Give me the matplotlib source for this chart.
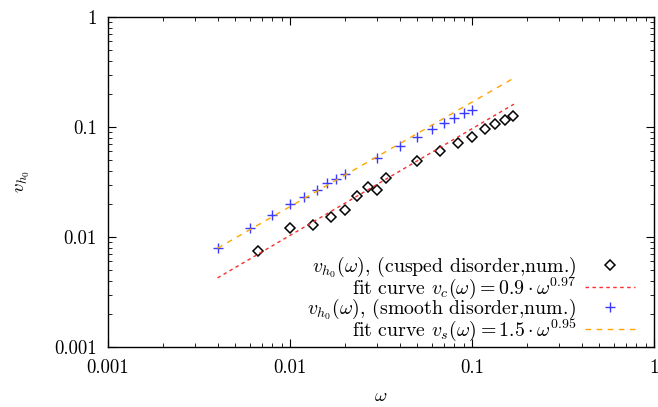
import numpy as np
import matplotlib
matplotlib.use('Agg')
import matplotlib.pyplot as plt
from matplotlib.ticker import FuncFormatter, LogLocator

plt.rcParams['font.family'] = 'serif'
plt.rcParams['font.serif'] = ['cmr10']
plt.rcParams['mathtext.fontset'] = 'cm'
plt.rcParams['axes.formatter.use_mathtext'] = True

# cusped disorder, numerical
w_cusp = [0.00667, 0.01, 0.0134, 0.0167, 0.02, 0.0233, 0.0268, 0.0302, 0.0336,
          0.05, 0.067, 0.0838, 0.1, 0.1175, 0.134, 0.151, 0.168]
v_cusp = [0.00746, 0.0122, 0.0128, 0.0152, 0.0175, 0.0237, 0.0285, 0.0269, 0.0342,
          0.0488, 0.0605, 0.072, 0.0816, 0.0953, 0.106, 0.1158, 0.1267]

# smooth disorder, numerical
w_smooth = [0.004, 0.006, 0.008, 0.01, 0.012, 0.014, 0.016, 0.018, 0.02,
            0.03, 0.04, 0.05, 0.06, 0.07, 0.08, 0.09, 0.1]
v_smooth = [0.0080, 0.0122, 0.0158, 0.0198, 0.0232, 0.0267, 0.0308, 0.0337, 0.0372,
            0.0526, 0.0668, 0.0811, 0.0953, 0.108, 0.120, 0.134, 0.1436]

# fit parameters
a_c, b_c = 0.9, 0.97
a_s, b_s = 1.5, 0.95
w_fit = np.logspace(np.log10(0.004), np.log10(0.17), 200)

fig = plt.figure(figsize=(6.58, 4.07), dpi=100)
ax = fig.add_axes([0.1641, 0.1474, 0.8298, 0.8108])

ax.plot(w_cusp, v_cusp, linestyle='none', marker='D', markersize=5.0,
        markerfacecolor='none', markeredgecolor='black', markeredgewidth=1.1,
        label=r'$v_{h_0}(\omega)$, (cusped disorder,num.)')
ax.plot(w_fit, a_c * w_fit**b_c, color='#ff2a2a', lw=1.0, dashes=(2.5, 2.5),
        label=r'fit curve $v_c(\omega) = 0.9\cdot\omega^{0.97}$')
ax.plot(w_smooth, v_smooth, linestyle='none', marker='+', markersize=7,
        markeredgewidth=1.0, color='#3a3aff',
        label=r'$v_{h_0}(\omega)$, (smooth disorder,num.)')
ax.plot(w_fit, a_s * w_fit**b_s, color='#ffa500', lw=1.0, dashes=(4, 4),
        label=r'fit curve $v_s(\omega) = 1.5\cdot\omega^{0.95}$')

ax.set_xscale('log')
ax.set_yscale('log')
ax.set_xlim(0.001, 1)
ax.set_ylim(0.001, 1)

fmt = FuncFormatter(lambda v, p: '%g' % v)
ax.xaxis.set_major_formatter(fmt)
ax.yaxis.set_major_formatter(fmt)
ax.xaxis.set_minor_locator(LogLocator(base=10, subs=np.arange(2, 10)))
ax.yaxis.set_minor_locator(LogLocator(base=10, subs=np.arange(2, 10)))
ax.tick_params(which='both', direction='in', top=True, right=True, labelsize=13.5)
ax.tick_params(which='major', length=6, width=0.8)
ax.tick_params(axis='x', which='major', pad=9)
ax.tick_params(axis='y', which='major', pad=8)
ax.tick_params(which='minor', length=3.2, width=0.6)
for s in ax.spines.values():
    s.set_linewidth(1.0)

ax.set_xlabel(r'$\omega$', fontsize=13.5, labelpad=7)
ax.set_ylabel(r'$v_{h_0}$', fontsize=13.5, labelpad=16)

leg = ax.legend(loc='lower right', bbox_to_anchor=(0.99, -0.03), markerfirst=False,
                frameon=False, fontsize=14.3, handlelength=2.5, handletextpad=0.45,
                labelspacing=-0.22, borderpad=0.2)

fig.savefig('out.png', dpi=100)
